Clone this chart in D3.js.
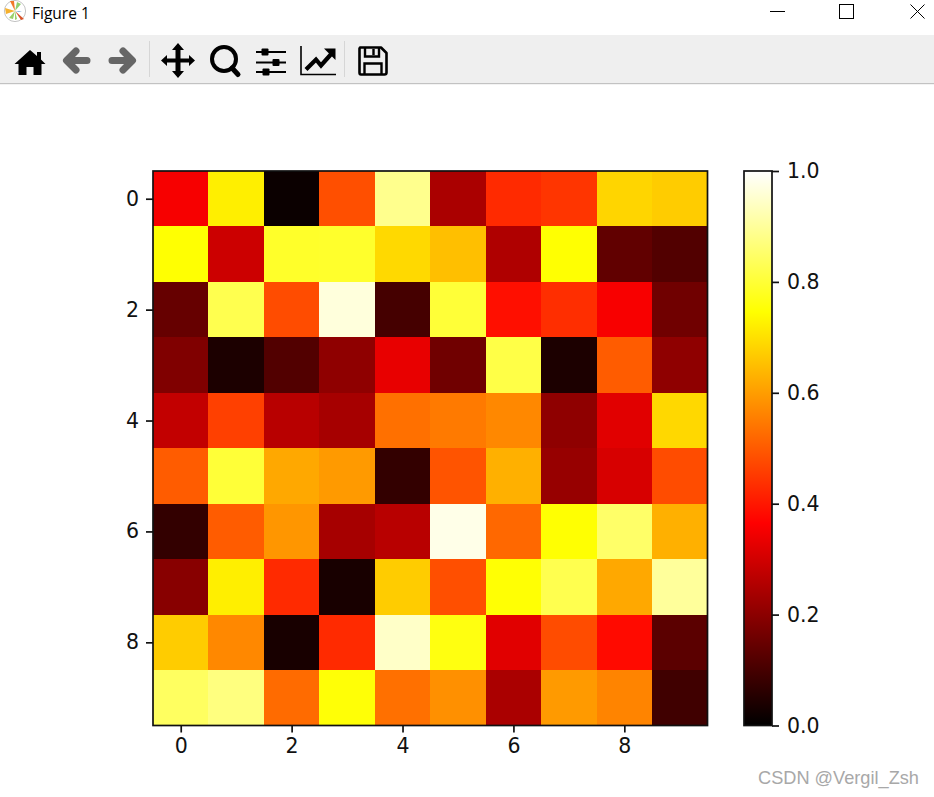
<!DOCTYPE html>
<html><head><meta charset="utf-8">
<script src="https://cdn.jsdelivr.net/npm/d3@7/dist/d3.min.js"></script>
<style>html,body{margin:0;padding:0;background:#fff;overflow:hidden}svg{display:block}</style>
</head><body><div id="c"></div>
<script>
const matrixValues = [
 [.353,.722,.000,.483,.886,.238,.428,.444,.683,.670],
 [.748,.289,.788,.790,.690,.651,.245,.748,.129,.106],
 [.137,.825,.479,.965,.087,.802,.388,.434,.355,.152],
 [.175,.026,.106,.198,.331,.152,.817,.026,.502,.198],
 [.274,.461,.259,.232,.533,.548,.568,.198,.320,.688],
 [.502,.802,.616,.595,.060,.491,.628,.209,.305,.479],
 [.060,.502,.589,.232,.259,.977,.520,.748,.850,.628],
 [.187,.722,.428,.020,.670,.483,.750,.825,.616,.900],
 [.670,.568,.020,.428,.945,.762,.320,.479,.380,.120],
 [.842,.873,.525,.752,.533,.580,.238,.595,.563,.080]
];
const axisTicks = [0,2,4,6,8];
const colorbarTicks = [0,0.2,0.4,0.6,0.8,1.0];
const hotStops = [0,0.365079,0.746032,1];
const titleText = "Figure 1";
const watermark = "CSDN @Vergil_Zsh";

const W=934,H=797;
const L=153,R=707.5,T=171,B=725.5, cbL=744,cbR=772;
const svg=d3.select("#c").append("svg").attr("width",W).attr("height",H);
const hot=v=>{
  const c=(a,b,lo)=>Math.max(0,Math.min(1,lo+(1-lo)*(v-a)/(b-a)));
  return d3.rgb(255*c(0,.365079,.0416),255*c(.365079,.746032,0),255*c(.746032,1,0)).formatHex();
};

// ---- window chrome
svg.append("rect").attr("width",W).attr("height",H).attr("fill","#fff");
svg.append("rect").attr("y",35).attr("width",W).attr("height",48).attr("fill","#efefef");
svg.append("rect").attr("y",83).attr("width",W).attr("height",1.2).attr("fill","#c2c2c2");
svg.append("text").attr("x",32).attr("y",18.5).attr("font-family","'Open Sans','Noto Sans',sans-serif")
  .attr("font-size",15.5).attr("fill","#000").text(titleText);
const logo=svg.append("g").attr("transform","translate(15,11)");
logo.append("circle").attr("r",10.6).attr("fill","#fff").attr("stroke","#c4c4c4").attr("stroke-width",1);
[["M0 0L-5 -10L-1 -10Z","#f0782a"],["M0 0L-10 -3L-9 3Z","#f5b12e"],["M0 0L-6 7L-2 8Z","#9ad069"],["M0 0L2 -9L6 -7Z","#8fcf6d"],["M0 0L4 1L7 0Z","#7fb0dc"],["M0 0L9 8L6 9Z","#d8542a"],["M0 0L2 8L0 9Z","#9ad069"]]
 .forEach(d=>logo.append("path").attr("d",d[0]).attr("fill",d[1]));
svg.append("path").attr("d","M770 11.5H785").attr("stroke","#000").attr("stroke-width",1).attr("fill","none");
svg.append("rect").attr("x",839.5).attr("y",4.5).attr("width",14).attr("height",14).attr("fill","none").attr("stroke","#000").attr("stroke-width",1);
svg.append("path").attr("d","M910.5 4.5L924.5 18.5M924.5 4.5L910.5 18.5").attr("stroke","#000").attr("stroke-width",1).attr("fill","none");

// ---- toolbar icons
const tb=svg.append("g");
tb.append("path").attr("fill","#000").attr("d","M30 50L37 56V52H41V59.5L45.5 64H41.5V75H33.5V67H26.5V75H18.5V64H14.5Z");
const arrow=(d,col)=>tb.append("path").attr("d",d).attr("fill","none").attr("stroke",col).attr("stroke-width",7).attr("stroke-linecap","round").attr("stroke-linejoin","round");
arrow("M87 60.5H67M76 51L66.5 60.5L76 70","#666");
arrow("M112 60.5H132M123 51L132.5 60.5L123 70","#666");
tb.append("path").attr("d","M149.5 41V77M344.5 41V77").attr("stroke","#d6d6d6").attr("stroke-width",1);
tb.append("path").attr("fill","#000").attr("d","M178 43L184 50H180.5V58.5H189V55L195 60.5L189 66V62.5H180.5V71H184L178 78L172 71H175.5V62.5H167V66L161 60.5L167 55V58.5H175.5V50H172Z");
tb.append("circle").attr("cx",224).attr("cy",59).attr("r",12).attr("fill","none").attr("stroke","#000").attr("stroke-width",4);
tb.append("path").attr("d","M232 68L238 74.5").attr("stroke","#000").attr("stroke-width",5).attr("stroke-linecap","round");
tb.append("path").attr("d","M256 52H286M256 62.5H286M256 72H286").attr("stroke","#000").attr("stroke-width",2);
[[265,52],[276,62.5],[266,72]].forEach(p=>tb.append("rect").attr("x",p[0]-3.5).attr("y",p[1]-3.5).attr("width",7).attr("height",7).attr("rx",1).attr("fill","#000"));
tb.append("path").attr("d","M301 46V74.5H336").attr("fill","none").attr("stroke","#000").attr("stroke-width",1.6);
tb.append("path").attr("d","M306 69.5L316 59.5L321 65.5L333 52").attr("fill","none").attr("stroke","#000").attr("stroke-width",4.2);
tb.append("path").attr("d","M324 48.5H335.5V60Z").attr("fill","#000");
tb.append("path").attr("d","M360 47.5H381L386.5 53V72.5Q386.5 74.5 384.5 74.5H361Q359.5 74.5 359.5 72.5V48.5Z").attr("fill","none").attr("stroke","#000").attr("stroke-width",2.6).attr("stroke-linejoin","round");
tb.append("path").attr("d","M365 48V56.5H379V48M373.5 49V55").attr("fill","none").attr("stroke","#000").attr("stroke-width",2.4);
tb.append("path").attr("d","M364.5 74V63.5H381.5V74").attr("fill","none").attr("stroke","#000").attr("stroke-width",2.4);

// ---- heatmap
const x=d3.scaleLinear().domain([-0.5,9.5]).range([L,R]);
const y=d3.scaleLinear().domain([-0.5,9.5]).range([T,B]);
const g=svg.append("g");
matrixValues.forEach((row,r)=>row.forEach((v,c)=>{
  const x0=Math.round(x(c-.5)),x1=Math.round(x(c+.5)),y0=Math.round(y(r-.5)),y1=Math.round(y(r+.5));
  g.append("rect").attr("x",x0).attr("y",y0).attr("width",x1-x0).attr("height",y1-y0).attr("fill",hot(v));
}));

const font="'DejaVu Sans',sans-serif";
const ink="#111";
const style=(a)=>{a.selectAll("text").attr("font-family",font).attr("font-size",20.5).attr("fill",ink);
  a.selectAll(".tick line").attr("stroke",ink).attr("stroke-width",1.7);
  a.select(".domain").remove();};
const ax=svg.append("g").attr("transform",`translate(0,${B})`).call(d3.axisBottom(x).tickValues(axisTicks).tickSize(7).tickPadding(6).tickFormat(d3.format("d")));
style(ax);
const ay=svg.append("g").attr("transform",`translate(${L},0)`).call(d3.axisLeft(y).tickValues(axisTicks).tickSize(7).tickPadding(7).tickFormat(d3.format("d")));
style(ay);
svg.append("rect").attr("x",L).attr("y",T).attr("width",R-L).attr("height",B-T).attr("fill","none").attr("stroke",ink).attr("stroke-width",1.7);

// ---- colorbar
const cb=d3.scaleLinear().domain([0,1]).range([B,T]);
const defs=svg.append("defs");
const lg=defs.append("linearGradient").attr("id","hot").attr("x1",0).attr("x2",0).attr("y1",1).attr("y2",0);
hotStops.forEach(s=>lg.append("stop").attr("offset",s).attr("stop-color",s===0?"#000000":hot(s)));
svg.append("rect").attr("x",cbL).attr("y",T).attr("width",cbR-cbL).attr("height",B-T).attr("fill","url(#hot)").attr("stroke",ink).attr("stroke-width",1.7);
const ac=svg.append("g").attr("transform",`translate(${cbR},0)`).call(d3.axisRight(cb).tickValues(colorbarTicks).tickSize(7).tickPadding(8).tickFormat(d3.format(".1f")));
style(ac);

// ---- watermark
svg.append("text").attr("x",758).attr("y",784).attr("font-family","'Liberation Sans',sans-serif").attr("font-size",18.2).attr("fill","#a8a8a8").text(watermark);
</script></body></html>
